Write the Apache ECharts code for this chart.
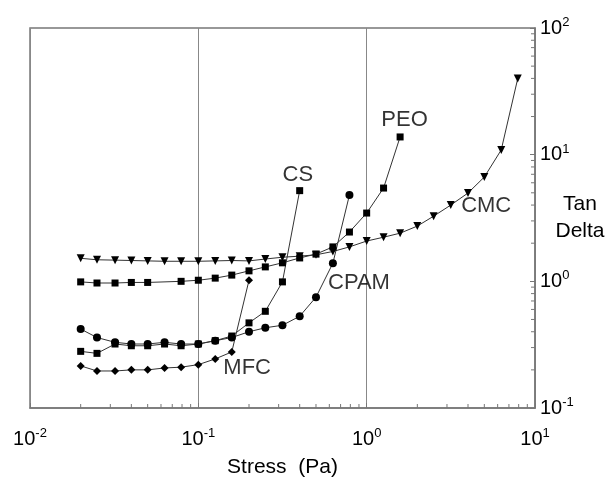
<!DOCTYPE html>
<html>
<head>
<meta charset="utf-8">
<script src="https://cdn.jsdelivr.net/npm/echarts@6/dist/echarts.min.js"></script>
<style>
  html, body { margin: 0; padding: 0; background: #fff; }
  #chart { width: 606px; height: 478px; }
</style>
</head>
<body>
<div id="chart"></div>
<script>
// stress steps (Pa), shared by all series
const stress = [0.02, 0.025, 0.032, 0.04, 0.05, 0.063, 0.079, 0.1, 0.126, 0.158, 0.2, 0.25, 0.316, 0.4,
                0.5, 0.63, 0.79, 1.0, 1.26, 1.58, 2.0, 2.5, 3.16, 4.0, 5.0, 6.3, 7.9];

// tan delta per series (null = no marker in the figure)
const cmc  = [1.52, 1.48, 1.47, 1.46, 1.45, 1.44, 1.44, 1.44, 1.45, 1.46, 1.45, 1.5, 1.55, 1.58,
              1.62, 1.72, 1.87, 2.08, 2.23, 2.4, 2.73, 3.27, 4.0, 4.98, 6.66, 10.9, 40];
const peo  = [0.99, 0.97, 0.97, 0.98, 0.98, null, 1.0, 1.02, 1.06, 1.12, 1.21, 1.3, 1.4, 1.53,
              1.64, 1.87, 2.45, 3.46, 5.45, 13.8];
const cs   = [0.28, 0.27, 0.32, 0.31, 0.31, 0.32, 0.31, 0.32, 0.34, 0.37, 0.47, 0.58, 0.99, 5.2];
const cpam = [0.42, 0.36, 0.33, 0.32, 0.32, 0.33, 0.32, 0.32, 0.34, 0.36, 0.4, 0.43, 0.45, 0.53,
              0.75, 1.39, 4.8];
const mfc  = [0.215, 0.196, 0.196, 0.2, 0.2, 0.207, 0.21, 0.22, 0.244, 0.277, 1.02];

// curve labels (data coords)
const labelNames = ['CS', 'PEO', 'CMC', 'CPAM', 'MFC'];
const labelX = [0.39, 1.68, 5.13, 0.9, 0.195];
const labelY = [6.9, 18.8, 3.93, 0.97, 0.207];

// minor tick values on both log axes
const xMinor = [];
const yMinor = [];
[0.01, 0.1, 1].forEach(d => { for (let k = 2; k <= 9; k++) xMinor.push(+(d * k).toPrecision(3)); });
[0.1, 1, 10].forEach(d => { for (let k = 2; k <= 9; k++) yMinor.push(+(d * k).toPrecision(3)); });

const FONT = '"Liberation Sans", Arial, sans-serif';
const INK = '#000';

function pairs(vals) {
  return vals.map((v, i) => [stress[i], v]).filter(p => p[1] != null);
}

function curve(name, vals, symbol, size, rotate) {
  return {
    name: name,
    type: 'line',
    data: pairs(vals),
    symbol: symbol,
    symbolSize: size,
    symbolRotate: rotate || 0,
    lineStyle: { color: '#333', width: 1 },
    itemStyle: { color: '#000' },
    silent: true
  };
}

function powLabel(v) {
  const e = Math.round(Math.log10(v));
  return '{b|10}{s|' + e + '}';
}
const powRich = {
  b: { fontSize: 20, fontFamily: FONT, color: INK, lineHeight: 24 },
  s: { fontSize: 13, fontFamily: FONT, color: INK, verticalAlign: 'top', lineHeight: 14 }
};

let myChart = echarts.init(document.getElementById('chart'));
let option = {
  animation: false,
  backgroundColor: '#fff',
  grid: {
    left: 30, right: 71, top: 28, bottom: 70,
    outerBoundsMode: 'none', containLabel: false,
    show: true, borderColor: '#777', borderWidth: 1.5
  },
  xAxis: {
    type: 'log', logBase: 10, min: 0.01, max: 10,
    name: 'Stress  (Pa)', nameLocation: 'middle', nameGap: 49,
    nameTextStyle: { fontSize: 21, fontFamily: FONT, color: INK },
    axisLine: { show: true, lineStyle: { color: '#777', width: 1.5 } },
    axisTick: { show: true, inside: true, length: 5, lineStyle: { color: '#777' } },
    splitLine: { show: true, lineStyle: { color: '#888', width: 1 } },
    axisLabel: { formatter: powLabel, rich: powRich, margin: 19 }
  },
  yAxis: {
    type: 'log', logBase: 10, min: 0.1, max: 100, position: 'right',
    name: '{t|Tan}\n{t|Delta}', nameLocation: 'middle', nameGap: 17, nameRotate: 0,
    nameMoveOverlap: false,
    nameTextStyle: {
      rich: { t: { width: 56, align: 'center', fontSize: 21, fontFamily: FONT, color: INK, lineHeight: 27 } }
    },
    axisLine: { show: true, lineStyle: { color: '#777', width: 1.5 } },
    axisTick: { show: true, inside: true, length: 5, lineStyle: { color: '#777' } },
    splitLine: { show: false },
    axisLabel: { formatter: powLabel, rich: powRich, margin: 5 }
  },
  series: [
    curve('CMC', cmc, 'triangle', 8, 180),
    curve('PEO', peo, 'rect', 7),
    curve('CS', cs, 'rect', 7),
    curve('CPAM', cpam, 'circle', 8),
    curve('MFC', mfc, 'diamond', 8),
    {
      type: 'scatter',
      data: labelNames.map((n, i) => ({ name: n, value: [labelX[i], labelY[i]] })),
      symbol: 'circle', symbolSize: 1,
      itemStyle: { color: 'rgba(0,0,0,0)' },
      label: { show: true, position: 'inside', formatter: '{b}', fontSize: 22, fontFamily: FONT, color: INK },
      silent: true
    },
    {
      type: 'custom',
      data: xMinor.map(v => [v, 0.1]),
      renderItem: function (params, api) {
        const p = api.coord([api.value(0), api.value(1)]);
        return { type: 'line', shape: { x1: p[0], y1: p[1], x2: p[0], y2: p[1] - 4 }, style: { stroke: '#777', lineWidth: 1 } };
      },
      silent: true
    },
    {
      type: 'custom',
      data: yMinor.map(v => [10, v]),
      renderItem: function (params, api) {
        const p = api.coord([api.value(0), api.value(1)]);
        return { type: 'line', shape: { x1: p[0], y1: p[1], x2: p[0] - 4, y2: p[1] }, style: { stroke: '#777', lineWidth: 1 } };
      },
      silent: true
    }
  ]
};
myChart.setOption(option);
</script>
</body>
</html>
